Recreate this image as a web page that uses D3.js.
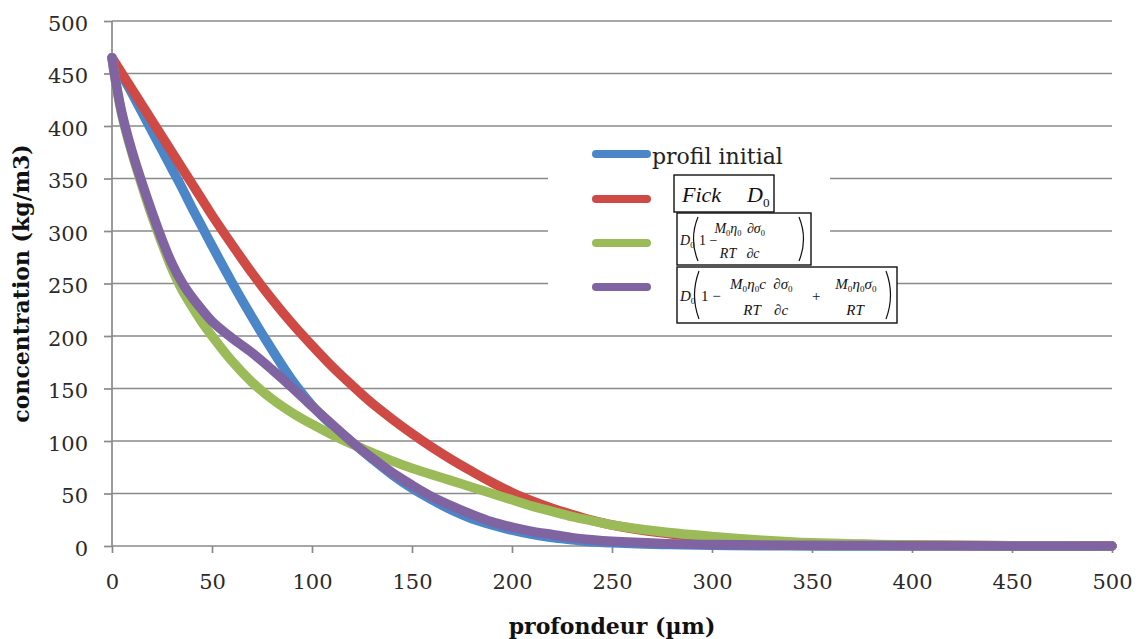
<!DOCTYPE html>
<html>
<head>
<meta charset="utf-8">
<script src="https://cdn.jsdelivr.net/npm/d3@7"></script>
<style>
html,body{margin:0;padding:0;background:#fff;}
svg{display:block;}
</style>
</head>
<body>
<svg id="chart" width="1139" height="639"></svg>
<script>
// ---------- DATA ----------
const depth = [0,2,5,10,15,20,25,30,35,40,45,50,60,70,80,90,100,110,120,130,140,150,160,170,180,190,200,210,220,230,240,250,275,300,325,350,375,400,450,500];
const profilInitial = [465,458,448,431,413,395,377,359,341,322,304,286,251,218,187,158,134,115,99,83,68,55,44,34,26,20,15,11,8,6,4,3,1.5,0.6,0.3,0.1,0,0,0,0];
const fickD0 = [465,459,450,435,420,405,390,375,360,345,330,315,287,260,235,212,191,171,153,136,121,107,94,82,71,60.5,51,43,36,30,24.5,20,12.5,7.5,4.5,2.5,1.5,1,0.3,0];
const modelSigma = [465,440,410,374,343,314,288,264,244,228,213,200,176,156,140,127,116,106,97,89,81,74,68,62,56,50,44,38,33,28,24,20,13.5,9,5.5,3,1.8,1,0.3,0];
const modelSigmaC = [465,441,412,376,346,318,292,269,251,237,225,214,198,184,168,151,133,116,99,84,70,58,47,38,30,23,18,14,11,8,6,4.5,2.5,1.5,1,0.7,0.5,0.3,0.1,0];
const xTicks = [0,50,100,150,200,250,300,350,400,450,500];
const yTicks = [0,50,100,150,200,250,300,350,400,450,500];
const seriesNames = ["profil initial","Fick D0","D0(1-...)","D0(1-...+...)"];
const seriesColors = ["#4A86C8","#CF4A45","#9BBB59","#8064A2"];
const seriesValues = [profilInitial, fickD0, modelSigma, modelSigmaC];

// ---------- LAYOUT ----------
const W = 1139, H = 639;
const m = {left:112, right:27, top:21, bottom:93};
const svg = d3.select("#chart");
const x = d3.scaleLinear().domain([0,500]).range([m.left, W - m.right]);
const y = d3.scaleLinear().domain([0,500]).range([H - m.bottom, m.top]);
const serif = "'DejaVu Serif', serif";

// gridlines
svg.append("g").selectAll("line").data(yTicks.filter(d=>d>0)).join("line")
  .attr("x1", x(0)).attr("x2", x(500))
  .attr("y1", d=>y(d)).attr("y2", d=>y(d))
  .attr("stroke","#8a8a8a").attr("stroke-width",1.7);

// axes
const xAxis = d3.axisBottom(x).tickValues(xTicks).tickSize(7).tickPadding(21);
const yAxis = d3.axisLeft(y).tickValues(yTicks).tickSize(8).tickPadding(16);
const gx = svg.append("g").attr("transform",`translate(0,${y(0)})`).call(xAxis);
const gy = svg.append("g").attr("transform",`translate(${x(0)},0)`).call(yAxis);
[gx,gy].forEach(g=>{
  g.selectAll("path.domain").attr("stroke","#8a8a8a").attr("stroke-width",1.7);
  g.selectAll(".tick line").attr("stroke","#8a8a8a").attr("stroke-width",1.7);
  g.selectAll(".tick text").attr("font-family",serif).attr("font-size",21).attr("fill","#2a2a2a");
});
gy.selectAll(".tick text").attr("dy","0.45em");
gx.select("path.domain").attr("d",`M${x(0)},0H${x(500)}`);
gy.select("path.domain").attr("d",`M0,${y(0)}V${y(500)}`);

// axis titles
svg.append("text").attr("x", (x(0)+x(500))/2).attr("y", 634)
  .attr("text-anchor","middle").attr("font-family",serif).attr("font-weight","bold")
  .attr("font-size",22).attr("fill","#111").text("profondeur (µm)");
svg.append("text").attr("transform",`translate(29,${(y(0)+y(500))/2}) rotate(-90)`)
  .attr("text-anchor","middle").attr("font-family",serif).attr("font-weight","bold")
  .attr("font-size",22).attr("fill","#111").text("concentration (kg/m3)");

// lines
const line = d3.line().x((d,i)=>x(depth[i])).y(d=>y(d)).curve(d3.curveCatmullRom.alpha(0.5));
svg.append("g").selectAll("path").data(seriesValues).join("path")
  .attr("d", d=>line(d)).attr("fill","none")
  .attr("stroke",(d,i)=>seriesColors[i]).attr("stroke-width",9.5)
  .attr("stroke-linecap","round").attr("stroke-linejoin","round");

// ---------- LEGEND ----------
const lg = svg.append("g");
lg.append("rect").attr("x",548).attr("y",138).attr("width",282).attr("height",180).attr("fill","#fff");
const legY = [154,199,243,287];
lg.selectAll("line.s").data(seriesColors).join("line").attr("class","s")
  .attr("x1",596).attr("x2",647).attr("y1",(d,i)=>legY[i]).attr("y2",(d,i)=>legY[i])
  .attr("stroke",d=>d).attr("stroke-width",8).attr("stroke-linecap","round");
lg.append("text").attr("x",652).attr("y",164).attr("font-family",serif).attr("font-size",22)
  .attr("fill","#222").text(seriesNames[0]);

const math = "'Liberation Serif','Times New Roman',serif";
function mtext(g, x0, yb, parts, size, anchor){
  const t = g.append("text").attr("x",x0).attr("y",yb).attr("font-family",math)
    .attr("font-size",size).attr("fill","#111").attr("text-anchor",anchor||"start");
  parts.forEach(p=>{
    if (typeof p === "string") {
      t.append("tspan").attr("font-style","italic").text(p);
    } else if (p.up) {
      t.append("tspan").attr("font-style","normal").text(p.up);
    } else if (p.sub) {
      t.append("tspan").attr("font-size",size*0.6).attr("dy",size*0.22).attr("font-style","normal").text(p.sub);
      t.append("tspan").attr("font-size",size*0.1).attr("dy",-size*0.22).text("\u200a");
    }
  });
  return t;
}
function paren(g, x0, cy, h, left){
  const p = d3.path();
  const w = 5;
  if (left){ p.moveTo(x0+w, cy-h/2); p.quadraticCurveTo(x0-w*0.8, cy, x0+w, cy+h/2); }
  else { p.moveTo(x0-w, cy-h/2); p.quadraticCurveTo(x0+w*0.8, cy, x0-w, cy+h/2); }
  g.append("path").attr("d",p.toString()).attr("fill","none").attr("stroke","#111").attr("stroke-width",1.2);
}
// box 1 : Fick D0
lg.append("rect").attr("x",674).attr("y",175).attr("width",100).attr("height",37).attr("fill","#fff").attr("stroke","#111").attr("stroke-width",1.4);
mtext(lg, 682, 202, ["Fick"], 22);
mtext(lg, 747, 202, ["D",{sub:"0"}], 22);

// box 2
lg.append("rect").attr("x",677).attr("y",213).attr("width",134).attr("height",52).attr("fill","#fff").attr("stroke","#111").attr("stroke-width",1.4);
mtext(lg, 680, 245, ["D",{sub:"0"}], 14);
paren(lg, 693, 239, 44, true);
mtext(lg, 699, 245, [{up:"1 −"}], 14);
mtext(lg, 728, 233, ["M",{sub:"0"},"η",{sub:"0"}], 14, "middle");
mtext(lg, 728, 258, ["RT"], 14, "middle");
mtext(lg, 756, 233, [{up:"∂"},"σ",{sub:"0"}], 14, "middle");
mtext(lg, 753, 258, [{up:"∂"},"c"], 14, "middle");
paren(lg, 804, 239, 44, false);

// box 3
lg.append("rect").attr("x",677).attr("y",267).attr("width",220).attr("height",56).attr("fill","#fff").attr("stroke","#111").attr("stroke-width",1.4);
mtext(lg, 680, 301, ["D",{sub:"0"}], 15);
paren(lg, 694, 295, 48, true);
mtext(lg, 701, 301, [{up:"1 −"}], 15);
mtext(lg, 748, 289, ["M",{sub:"0"},"η",{sub:"0"},"c"], 15, "middle");
mtext(lg, 752, 315, ["RT"], 15, "middle");
mtext(lg, 783, 289, [{up:"∂"},"σ",{sub:"0"}], 15, "middle");
mtext(lg, 781, 315, [{up:"∂"},"c"], 15, "middle");
mtext(lg, 812, 301, [{up:"+"}], 15);
mtext(lg, 856, 289, ["M",{sub:"0"},"η",{sub:"0"},"σ",{sub:"0"}], 15, "middle");
mtext(lg, 855, 315, ["RT"], 15, "middle");
paren(lg, 891, 295, 48, false);
</script>
</body>
</html>
